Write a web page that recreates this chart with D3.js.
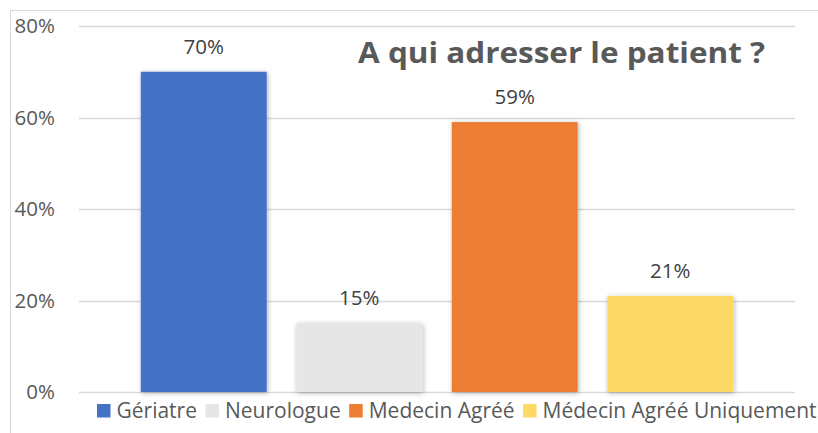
<html>
<head>
<script src="https://d3js.org/d3.v7.min.js"></script>
<style>
body { margin: 0; background: #fff; }
text { font-family: "Open Sans", sans-serif; }
</style>
</head>
<body>
<script>
const categories = ["Gériatre", "Neurologue", "Medecin Agréé", "Médecin Agréé Uniquement"];
const values = [0.70, 0.15, 0.59, 0.21];
const colors = ["#4472C4", "#E7E6E6", "#ED7D31", "#FFD966"];
const yTicks = [0, 0.2, 0.4, 0.6, 0.8];
const title = "A qui adresser le patient ?";

const width = 818, height = 433;
const svg = d3.select("body").append("svg")
    .attr("width", width).attr("height", height);

const defs = svg.append("defs");
const shadow = defs.append("filter").attr("id", "shadow")
    .attr("x", "-10%").attr("y", "-10%").attr("width", "130%").attr("height", "130%");
shadow.append("feDropShadow")
    .attr("dx", 1).attr("dy", 1).attr("stdDeviation", 2.5)
    .attr("flood-color", "#000").attr("flood-opacity", 0.3);

// chart border
svg.append("rect")
    .attr("x", 10.5).attr("y", 10.5).attr("width", 830).attr("height", 440)
    .attr("fill", "none").attr("stroke", "#d9d9d9");

let x = d3.scaleBand().domain(categories).range([79, 795])
    .paddingInner(0.19).paddingOuter(0.3975);
let y = d3.scaleLinear().domain([0, 0.8]).range([392, 26]);

// gridlines
svg.append("g").selectAll("line")
    .data(yTicks).enter().append("line")
    .attr("x1", 79).attr("x2", 795)
    .attr("y1", d => Math.round(y(d)) + 0.5)
    .attr("y2", d => Math.round(y(d)) + 0.5)
    .attr("stroke", "#d9d9d9").attr("stroke-width", 1.3);

// y axis labels
let yAxis = d3.axisLeft(y).tickValues(yTicks).tickFormat(d3.format(".0%")).tickSize(0).tickPadding(0);
let ga = svg.append("g").attr("transform", "translate(55,0)").call(yAxis);
ga.select(".domain").remove();
ga.selectAll("text").attr("font-size", "20.5px").attr("fill", "#595959")
    .attr("font-family", "'Open Sans', sans-serif");

// bars
svg.append("g").selectAll("rect")
    .data(values).enter().append("rect")
    .attr("x", (d, i) => x(categories[i]))
    .attr("width", x.bandwidth())
    .attr("y", d => y(d))
    .attr("height", d => y(0) - y(d))
    .attr("fill", (d, i) => colors[i])
    .attr("filter", "url(#shadow)");

// value labels
svg.append("g").selectAll("text")
    .data(values).enter().append("text")
    .attr("x", (d, i) => x(categories[i]) + x.bandwidth() / 2)
    .attr("y", d => y(d) - 18)
    .attr("text-anchor", "middle")
    .attr("font-size", "20.5px")
    .attr("fill", "#404040")
    .text(d => d3.format(".0%")(d));

// title
svg.append("text")
    .attr("x", 358).attr("y", 63)
    .attr("font-size", "28px")
    .attr("font-weight", "bold")
    .attr("fill", "#595959")
    .attr("textLength", 407)
    .attr("lengthAdjust", "spacingAndGlyphs")
    .text(title);

// legend
let legend = svg.append("g");
let lx = 97;
categories.forEach(function(c, i) {
    legend.append("rect")
        .attr("x", lx).attr("y", 404).attr("width", 13.5).attr("height", 13.5)
        .attr("fill", colors[i]);
    let t = legend.append("text")
        .attr("x", lx + 19.5).attr("y", 418)
        .attr("font-size", "21px").attr("fill", "#595959")
        .text(c);
    lx += 19.5 + t.node().getComputedTextLength() + 8.5;
});
</script>
</body>
</html>
